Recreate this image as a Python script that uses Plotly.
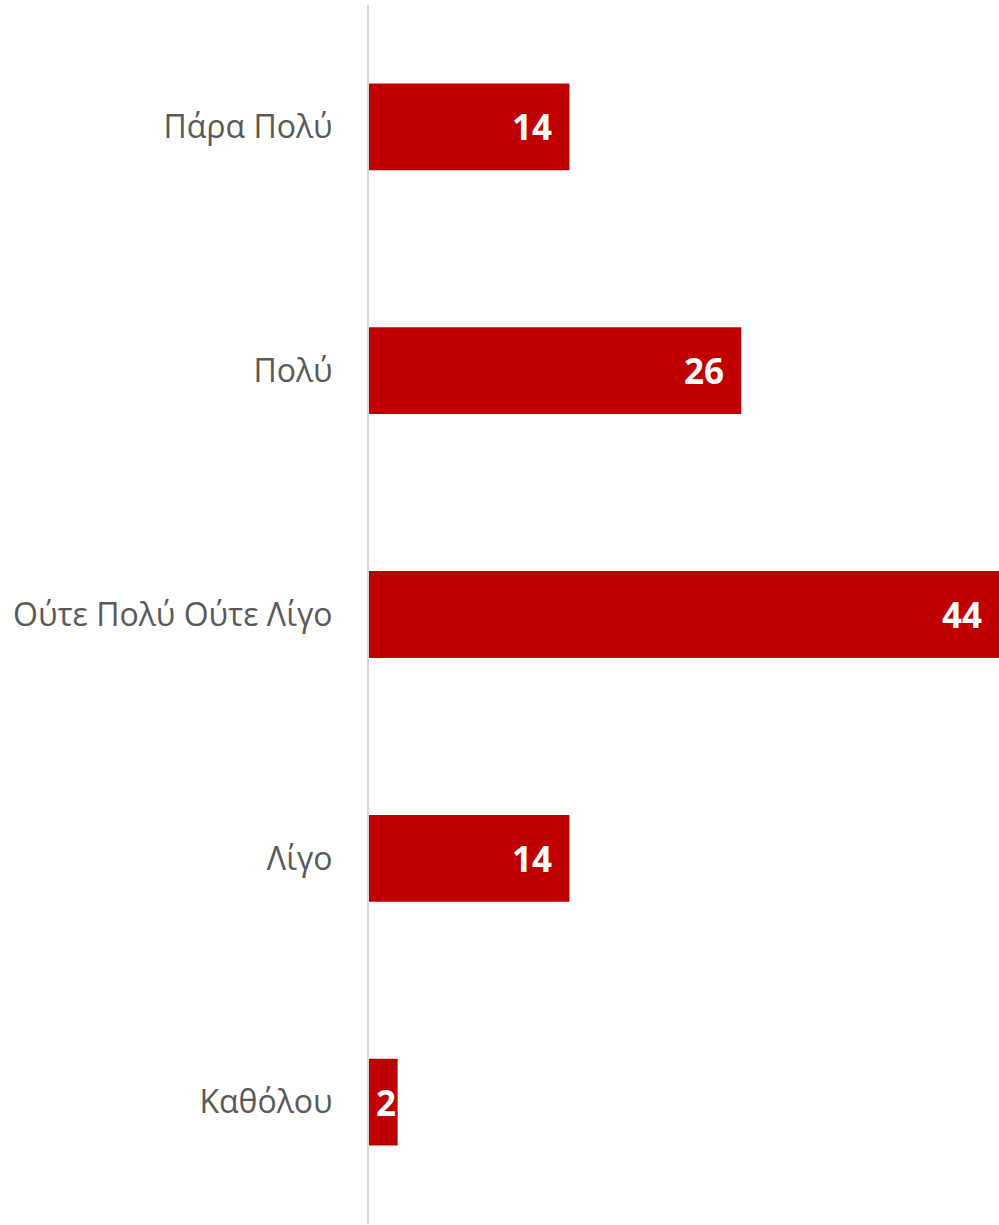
import plotly.graph_objects as go

categories = ["Πάρα Πολύ", "Πολύ", "Ούτε Πολύ Ούτε Λίγο", "Λίγο", "Καθόλου"]
values = [14, 26, 44, 14, 2]

fig = go.Figure()
fig.add_trace(go.Bar(
    y=categories,
    x=values,
    orientation="h",
    marker=dict(color="#C00000", line=dict(width=0)),
    width=0.356,
    hoverinfo="skip",
))

for c, v in zip(categories, values):
    fig.add_annotation(
        x=v, y=c, xref="x", yref="y",
        text=str(v), showarrow=False,
        xanchor="right", yanchor="middle",
        xshift=-15 if v > 5 else 0,
        font=dict(family="Open Sans", size=35, color="white", weight="bold"),
    )

fig.update_layout(
    width=999, height=1225,
    margin=dict(l=369, r=0, t=5, b=1),
    paper_bgcolor="white",
    plot_bgcolor="white",
    showlegend=False,
    xaxis=dict(range=[0, 44], showticklabels=False, showgrid=False,
               zeroline=False, showline=False, ticks=""),
    yaxis=dict(autorange="reversed", showgrid=False, zeroline=False,
               showline=True, linecolor="#D9D9D9", linewidth=2, ticks="",
               ticklabelstandoff=28,
               tickfont=dict(family="Open Sans", size=32, color="#595959")),
)

fig.write_html("out.html", config={"displayModeBar": False},
               post_script="document.body.style.margin='0';document.body.style.overflow='hidden';")
